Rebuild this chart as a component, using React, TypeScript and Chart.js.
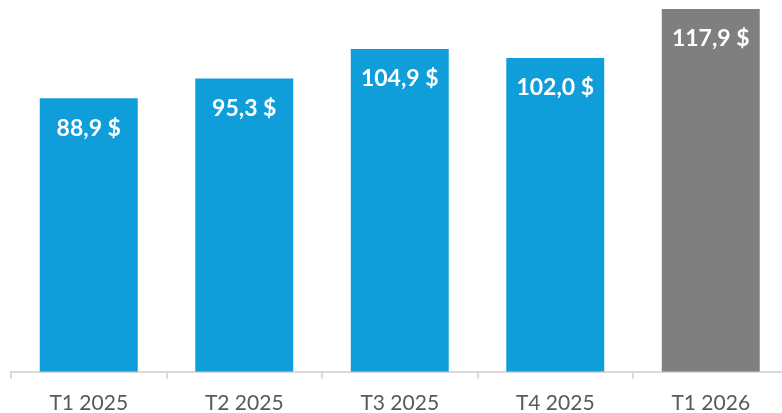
import React, { useEffect, useRef } from "react";
import { Chart, registerables } from "chart.js";

Chart.register(...registerables);

const categories = ["T1 2025", "T2 2025", "T3 2025", "T4 2025", "T1 2026"];
const values = [88.9, 95.3, 104.9, 102.0, 117.9];
const valueLabels = ["88,9 $", "95,3 $", "104,9 $", "102,0 $", "117,9 $"];
const barColors = ["#0F9ED9", "#0F9ED9", "#0F9ED9", "#0F9ED9", "#7F7F7F"];

const labelPlugin = {
  id: "valueLabels",
  afterDatasetsDraw(chart: any) {
    const ctx = chart.ctx;
    const meta = chart.getDatasetMeta(0);
    ctx.save();
    ctx.fillStyle = "#FFFFFF";
    ctx.font = "bold 23px Lato, 'Open Sans', sans-serif";
    ctx.textAlign = "center";
    ctx.textBaseline = "middle";
    meta.data.forEach((el: any, i: number) => {
      ctx.fillText(valueLabels[i], el.x, el.y + 30);
    });
    ctx.restore();
  },
};

export default function App() {
  const ref = useRef<HTMLCanvasElement | null>(null);
  useEffect(() => {
    if (!ref.current) return;
    const chart = new Chart(ref.current, {
      type: "bar",
      data: {
        labels: categories,
        datasets: [
          {
            data: values,
            backgroundColor: barColors,
            categoryPercentage: 0.63,
            barPercentage: 1,
          },
        ],
      },
      options: {
        responsive: false,
        animation: false,
        layout: { padding: { left: 11, right: 11.5, top: 2.5, bottom: 0 } },
        plugins: { legend: { display: false }, tooltip: { enabled: false } },
        scales: {
          x: {
            grid: {
              drawOnChartArea: false,
              drawTicks: true,
              tickLength: 7,
              color: "#D9D9D9",
              lineWidth: 2,
            },
            border: { color: "#D9D9D9", width: 2 },
            ticks: {
              color: "#595959",
              font: { family: "Lato, 'Open Sans', sans-serif", size: 21 },
              padding: 12,
            },
          },
          y: {
            display: false,
            min: 0,
            max: 120,
          },
        },
      },
      plugins: [labelPlugin],
    });
    return () => chart.destroy();
  }, []);
  return (
    <div style={{ position: "fixed", left: 0, top: 0, width: 782, height: 413, overflow: "hidden", background: "#fff" }}>
      <canvas ref={ref} width={800} height={428} style={{ display: "block" }} />
    </div>
  );
}
